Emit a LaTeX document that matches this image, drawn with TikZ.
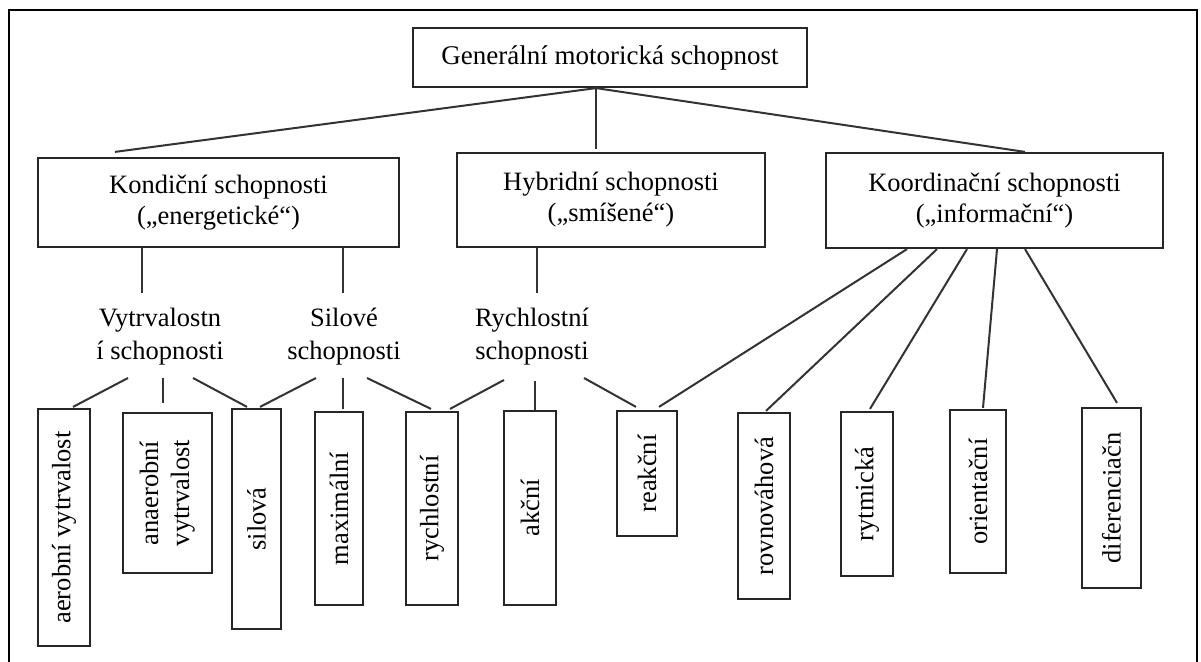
\documentclass[tikz,border=0pt]{standalone}
\usepackage{fontspec}
\setmainfont{Liberation Serif}
\usepackage{graphicx}
\usetikzlibrary{calc}
\begin{document}
\begin{tikzpicture}[x=1pt,y=-1pt,
 bx/.style={draw=black!85,line width=2.2pt,inner sep=0pt,align=center,font=\fontsize{26.5}{31}\selectfont},
 lbl/.style={inner sep=0pt,align=center,font=\fontsize{26.5}{33}\selectfont},
 ln/.style={draw=black!80,line width=2pt}]
\useasboundingbox (0,0) rectangle (1201,661);
\clip (0,0) rectangle (1201,661);
\fill[white] (0,0) rectangle (1201,661);
\draw[line width=2.8pt] (9,10) rectangle (1197,720);
% top level
\node[bx,minimum width=394,minimum height=59,font=\fontsize{27}{31}\selectfont] (gen) at (610,57.5) {Generální motorická schopnost};
\node[bx,minimum width=361,minimum height=89] (kon) at (218.5,202.5) {Kondiční schopnosti\\(„energetické“)};
\node[bx,minimum width=308,minimum height=94] (hyb) at (611,200) {Hybridní schopnosti\\(„smíšené“)};
\node[bx,minimum width=337,minimum height=95] (koo) at (994.5,200.5) {Koordinační schopnosti\\(„informační“)};
% middle labels
\node[lbl] (vyt) at (160,336.5) {Vytrvalostn\\í schopnosti};
\node[lbl] (sll) at (344,336.5) {Silové\\schopnosti};
\node[lbl] (ryl) at (532,336.5) {Rychlostní\\schopnosti};
% bottom boxes
\node[bx,minimum width=52,minimum height=237] (aer) at (64,527.5) {\rotatebox{90}{aerobní vytrvalost}};
\node[bx,minimum width=89,minimum height=160] (ana) at (167.5,493) {\rotatebox{90}{\begin{tabular}{@{}c@{}}anaerobní\\vytrvalost\end{tabular}}};
\node[bx,minimum width=49,minimum height=220] (sil) at (256.5,519) {\rotatebox{90}{silová}};
\node[bx,minimum width=48,minimum height=193] (max) at (339,508.5) {\rotatebox{90}{maximální}};
\node[bx,minimum width=52,minimum height=193] (ryc) at (432,508.5) {\rotatebox{90}{rychlostní}};
\node[bx,minimum width=52,minimum height=194] (akc) at (530,508) {\rotatebox{90}{akční}};
\node[bx,minimum width=60,minimum height=125] (rea) at (647,473.5) {\rotatebox{90}{reakční}};
\node[bx,minimum width=52,minimum height=186] (rov) at (764,506) {\rotatebox{90}{rovnováhová}};
\node[bx,minimum width=52,minimum height=164] (ryt) at (867,494) {\rotatebox{90}{rytmická}};
\node[bx,minimum width=56,minimum height=163] (ori) at (978,491.5) {\rotatebox{90}{orientační}};
\node[bx,minimum width=59,minimum height=180] (dif) at (1111.5,498) {\rotatebox{90}{diferenciačn}};
% connectors top
\draw[ln] ($(gen.south)+(-14,0)$) -- ($(kon.north)+(-103.5,-5)$);
\draw[ln] ($(gen.south)+(-14,0)$) -- ($(hyb.north)+(-15,-3)$);
\draw[ln] ($(gen.south)+(-14,0)$) -- ($(koo.north)+(30.5,0)$);
% to middle labels
\draw[ln] ($(kon.south)+(-76.5,0)$) -- ($(vyt.center)+(-18,-43.5)$);
\draw[ln] ($(kon.south)+(124.5,0)$) -- ($(sll.center)+(-1,-43.5)$);
\draw[ln] ($(hyb.south)+(-74,0)$) -- ($(ryl.center)+(5,-43.5)$);
% labels to boxes
\draw[ln] ($(vyt.center)+(-32,41.5)$) -- ($(aer.north)+(9,-1)$);
\draw[ln] ($(vyt.center)+(3,41.5)$) -- ($(ana.north)+(-4.5,-9)$);
\draw[ln] ($(vyt.center)+(33,41.5)$) -- ($(sil.north)+(-9.5,-1)$);
\draw[ln] ($(sll.center)+(-28,41.5)$) -- ($(sil.north)+(3.5,-1)$);
\draw[ln] ($(sll.center)+(-1,41.5)$) -- ($(max.north)+(4,-2)$);
\draw[ln] ($(sll.center)+(23,41.5)$) -- ($(ryc.north)+(-1,-2)$);
\draw[ln] ($(ryl.center)+(-28,43.5)$) -- ($(ryc.north)+(18,-2)$);
\draw[ln] ($(ryl.center)+(3,44.5)$) -- ($(akc.north)+(5,0)$);
\draw[ln] ($(ryl.center)+(52,41.5)$) -- ($(rea.north)+(-11,-3)$);
% coordination
\draw[ln] ($(koo.south)+(-87.5,0)$) -- ($(rea.north)+(12,-3)$);
\draw[ln] ($(koo.south)+(-57.5,0)$) -- ($(rov.north)+(2,-1)$);
\draw[ln] ($(koo.south)+(-27.5,0)$) -- ($(ryt.north)+(3,-2)$);
\draw[ln] ($(koo.south)+(2.5,0)$) -- ($(ori.north)+(5,-1)$);
\draw[ln] ($(koo.south)+(30.5,0)$) -- ($(dif.north)+(5.5,-4)$);
\end{tikzpicture}
\end{document}
